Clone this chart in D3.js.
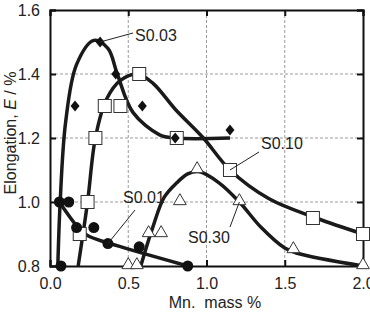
<!DOCTYPE html>
<html>
<head>
<meta charset="utf-8">
<script src="https://cdn.jsdelivr.net/npm/d3@7"></script>
<style>
  body { margin: 0; background: #fff; }
  svg { font-family: "Liberation Sans", Arial, sans-serif; }
</style>
</head>
<body>
<svg id="chart" width="370" height="314"></svg>
<script>
// tick labels
const xTicks = [0.0, 0.5, 1.0, 1.5, 2.0];
const yTicks = [0.8, 1.0, 1.2, 1.4, 1.6];

// measured points  [Mn mass %, elongation %]
const s003 = [[0.16, 1.30], [0.32, 1.50], [0.42, 1.40], [0.59, 1.30], [0.80, 1.20], [1.15, 1.225]];
const s001 = [[0.07, 0.80], [0.06, 1.00], [0.12, 1.00], [0.17, 0.92], [0.28, 0.92], [0.37, 0.87], [0.57, 0.86], [0.88, 0.80]];
const s010 = [[0.19, 0.90], [0.24, 1.00], [0.29, 1.20], [0.35, 1.30], [0.45, 1.30], [0.57, 1.40], [0.81, 1.20], [1.15, 1.10], [1.68, 0.95], [2.0, 0.90]];
const s030 = [[0.50, 0.80], [0.555, 0.80], [0.63, 0.90], [0.71, 0.90], [0.83, 1.00], [0.94, 1.10], [1.21, 1.00], [1.555, 0.85], [2.0, 0.80]];

// hand-drawn trend curves
const curve003 = [[0.05, 0.80], [0.065, 1.00], [0.10, 1.25], [0.17, 1.43], [0.28, 1.505], [0.37, 1.48], [0.43, 1.40], [0.53, 1.28], [0.70, 1.21], [0.80, 1.20], [1.15, 1.20]];
const curve001 = [[0.06, 1.00], [0.18, 0.92], [0.24, 0.895], [0.37, 0.872], [0.88, 0.80]];
const curve010 = [[0.18, 0.80], [0.24, 1.00], [0.29, 1.20], [0.36, 1.32], [0.45, 1.38], [0.56, 1.40], [0.66, 1.37], [0.80, 1.29], [0.98, 1.20], [1.15, 1.10], [1.40, 1.01], [1.70, 0.95], [2.0, 0.90]];
const curve030 = [[0.58, 0.80], [0.656, 0.92], [0.73, 1.015], [0.81, 1.06], [0.88, 1.088], [0.95, 1.095], [1.08, 1.06], [1.21, 1.00], [1.35, 0.92], [1.50, 0.856], [1.58, 0.84], [2.0, 0.80]];

const margin = { top: 10, right: 7, bottom: 48, left: 50 };
const width = 370, height = 314;

const svg = d3.select("svg#chart");

// SCALES
const x = d3.scaleLinear().domain([0, 2]).range([margin.left, width - margin.right]);
const y = d3.scaleLinear().domain([0.8, 1.6]).range([height - margin.bottom, margin.top]);

// GRID
svg.append("g").selectAll("line").data(xTicks.slice(1, -1)).join("line")
    .attr("x1", d => x(d)).attr("x2", d => x(d))
    .attr("y1", y(1.6)).attr("y2", y(0.8))
    .attr("stroke", "#9a9a9a").attr("stroke-dasharray", "3,2");
svg.append("g").selectAll("line").data(yTicks.slice(1, -1)).join("line")
    .attr("x1", x(0)).attr("x2", x(2))
    .attr("y1", d => y(d)).attr("y2", d => y(d))
    .attr("stroke", "#9a9a9a").attr("stroke-dasharray", "3,2");

// AXES (ticks inward on all four sides)
const fmt = d3.format(".1f");
const axB = svg.append("g").attr("transform", `translate(0,${y(0.8)})`)
    .call(d3.axisBottom(x).tickValues(xTicks).tickFormat(fmt).tickSize(-6).tickPadding(12));
const axL = svg.append("g").attr("transform", `translate(${x(0)},0)`)
    .call(d3.axisLeft(y).tickValues(yTicks).tickFormat(fmt).tickSize(-6).tickPadding(10));
const axT = svg.append("g").attr("transform", `translate(0,${y(1.6)})`)
    .call(d3.axisTop(x).tickValues(xTicks).tickFormat("").tickSize(-6));
const axR = svg.append("g").attr("transform", `translate(${x(2)},0)`)
    .call(d3.axisRight(y).tickValues(yTicks).tickFormat("").tickSize(-6));

[axB, axL, axT, axR].forEach(g => {
    g.select(".domain").attr("stroke", "#111").attr("stroke-width", 2);
    g.selectAll(".tick line").attr("stroke", "#111").attr("stroke-width", 2);
    g.selectAll(".tick text").attr("fill", "#222").style("font-size", "16px")
        .style("font-family", "'Liberation Sans', Arial, sans-serif");
});

// CURVES
const line = d3.line()
    .x(d => x(d[0]))
    .y(d => y(d[1]))
    .curve(d3.curveCatmullRom.alpha(0.5));

[curve003, curve001, curve010, curve030].forEach(c => {
    svg.append("path").datum(c)
        .attr("d", line)
        .attr("fill", "none")
        .attr("stroke", "#1a1a1a")
        .attr("stroke-width", 3.5)
        .attr("stroke-linejoin", "round");
});

// MARKERS
svg.append("g").selectAll("rect").data(s010).join("rect")
    .attr("x", d => x(d[0]) - 6.5).attr("y", d => y(d[1]) - 6.5)
    .attr("width", 13).attr("height", 13)
    .attr("fill", "#fff").attr("stroke", "#333").attr("stroke-width", 1);

const tri = d3.symbol().type(d3.symbolTriangle).size(70);
svg.append("g").selectAll("path").data(s030).join("path")
    .attr("d", tri)
    .attr("transform", d => `translate(${x(d[0])},${y(d[1]) - 1})`)
    .attr("fill", "#fff").attr("stroke", "#333").attr("stroke-width", 1);

svg.append("g").selectAll("circle").data(s001).join("circle")
    .attr("cx", d => x(d[0])).attr("cy", d => y(d[1]))
    .attr("r", 5.5).attr("fill", "#111");

svg.append("g").selectAll("path").data(s003).join("path")
    .attr("d", "M0,-5.5L4.5,0L0,5.5L-4.5,0Z")
    .attr("transform", d => `translate(${x(d[0])},${y(d[1])})`)
    .attr("fill", "#111");

// LABELS with leaders
const labels = [
    { text: "S0.03", tx: 135, ty: 41, from: [133, 33], to: s003[1] },
    { text: "S0.10", tx: 261, ty: 149, from: [259, 152], to: s010[7] },
    { text: "S0.01", tx: 123, ty: 203, from: [135, 210], to: s001[5] },
    { text: "S0.30", tx: 188, ty: 243, from: [230, 227], to: s030[6] }
];
labels.forEach(l => {
    svg.append("line")
        .attr("x1", l.from[0]).attr("y1", l.from[1])
        .attr("x2", x(l.to[0])).attr("y2", y(l.to[1]))
        .attr("stroke", "#222").attr("stroke-width", 1);
    svg.append("text").attr("x", l.tx).attr("y", l.ty)
        .attr("fill", "#222").style("font-size", "16px").text(l.text);
});

// AXIS TITLES
svg.append("text")
    .attr("x", 215).attr("y", 308)
    .attr("text-anchor", "middle")
    .attr("fill", "#222").style("font-size", "16px")
    .attr("xml:space", "preserve")
    .text("Mn.  mass %");

const yt = svg.append("text")
    .attr("transform", `translate(16,133) rotate(-90)`)
    .attr("text-anchor", "middle")
    .attr("fill", "#222").style("font-size", "16px");
yt.append("tspan").text("Elongation, ");
yt.append("tspan").style("font-style", "italic").text("E");
yt.append("tspan").text(" / %");
</script>
</body>
</html>
